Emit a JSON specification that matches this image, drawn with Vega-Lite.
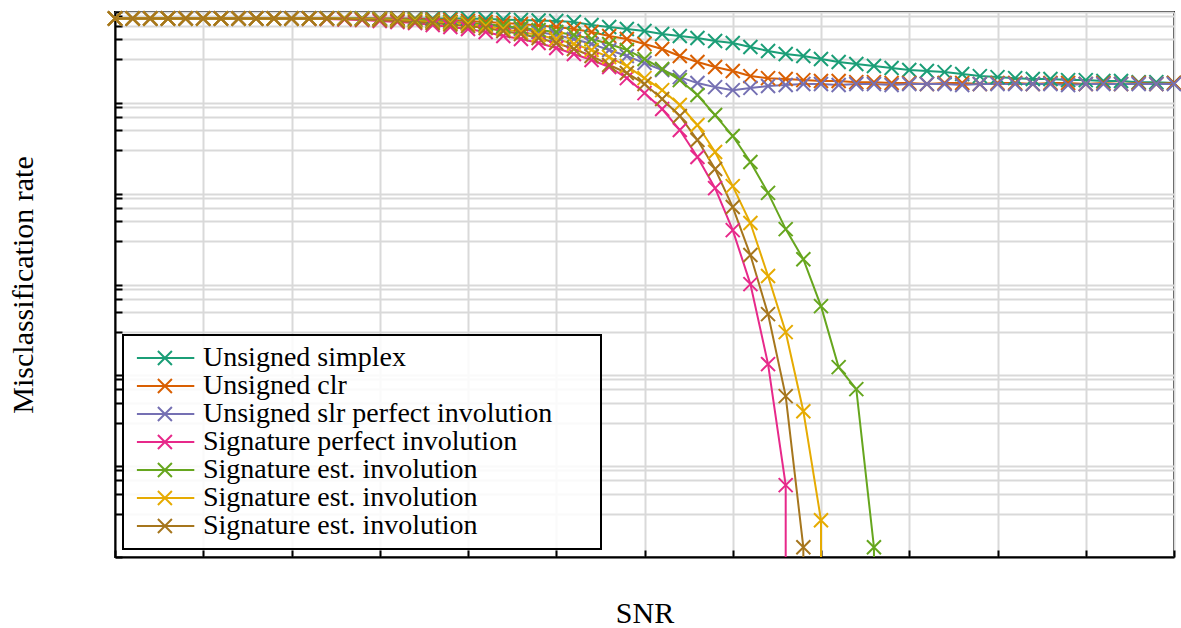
{
"$schema": "https://vega.github.io/schema/vega-lite/v6.json",
"width": 1059,
"height": 545,
"autosize": {"type": "none"},
"padding": {"left": 115, "top": 12, "right": 7, "bottom": 71},
"background": "white",
"config": {
  "font": "Liberation Serif",
  "view": {"stroke": "black", "strokeWidth": 2},
  "axis": {"grid": true, "gridColor": "#d9d9d9", "gridWidth": 2, "domainColor": "black", "domainWidth": 2, "tickColor": "black", "tickWidth": 2, "tickSize": -7, "labels": false, "titleFont": "Liberation Serif", "titleFontSize": 30, "titleFontWeight": "normal", "titleColor": "black"},
  "legend": {"labelLimit": 600, "strokeWidth": 2}
},
"datasets": {
"d": [
{"series":"Unsigned simplex","snr":-30,"rate":0.848},{"series":"Unsigned simplex","snr":-29,"rate":0.848},{"series":"Unsigned simplex","snr":-28,"rate":0.848},{"series":"Unsigned simplex","snr":-27,"rate":0.848},{"series":"Unsigned simplex","snr":-26,"rate":0.848},{"series":"Unsigned simplex","snr":-25,"rate":0.848},{"series":"Unsigned simplex","snr":-24,"rate":0.848},{"series":"Unsigned simplex","snr":-23,"rate":0.848},{"series":"Unsigned simplex","snr":-22,"rate":0.848},{"series":"Unsigned simplex","snr":-21,"rate":0.848},{"series":"Unsigned simplex","snr":-20,"rate":0.848},{"series":"Unsigned simplex","snr":-19,"rate":0.848},{"series":"Unsigned simplex","snr":-18,"rate":0.848},{"series":"Unsigned simplex","snr":-17,"rate":0.848},{"series":"Unsigned simplex","snr":-16,"rate":0.848},{"series":"Unsigned simplex","snr":-15,"rate":0.848},{"series":"Unsigned simplex","snr":-14,"rate":0.848},{"series":"Unsigned simplex","snr":-13,"rate":0.848},{"series":"Unsigned simplex","snr":-12,"rate":0.848},{"series":"Unsigned simplex","snr":-11,"rate":0.848},{"series":"Unsigned simplex","snr":-10,"rate":0.848},{"series":"Unsigned simplex","snr":-9,"rate":0.837},{"series":"Unsigned simplex","snr":-8,"rate":0.827},{"series":"Unsigned simplex","snr":-7,"rate":0.816},{"series":"Unsigned simplex","snr":-6,"rate":0.806},{"series":"Unsigned simplex","snr":-5,"rate":0.796},{"series":"Unsigned simplex","snr":-4,"rate":0.776},{"series":"Unsigned simplex","snr":-3,"rate":0.719},{"series":"Unsigned simplex","snr":-2,"rate":0.684},{"series":"Unsigned simplex","snr":-1,"rate":0.650},{"series":"Unsigned simplex","snr":0,"rate":0.618},{"series":"Unsigned simplex","snr":1,"rate":0.572},{"series":"Unsigned simplex","snr":2,"rate":0.544},{"series":"Unsigned simplex","snr":3,"rate":0.517},{"series":"Unsigned simplex","snr":4,"rate":0.479},{"series":"Unsigned simplex","snr":5,"rate":0.456},{"series":"Unsigned simplex","snr":6,"rate":0.412},{"series":"Unsigned simplex","snr":7,"rate":0.372},{"series":"Unsigned simplex","snr":8,"rate":0.345},{"series":"Unsigned simplex","snr":9,"rate":0.328},{"series":"Unsigned simplex","snr":10,"rate":0.304},{"series":"Unsigned simplex","snr":11,"rate":0.281},{"series":"Unsigned simplex","snr":12,"rate":0.268},{"series":"Unsigned simplex","snr":13,"rate":0.254},{"series":"Unsigned simplex","snr":14,"rate":0.242},{"series":"Unsigned simplex","snr":15,"rate":0.230},{"series":"Unsigned simplex","snr":16,"rate":0.224},{"series":"Unsigned simplex","snr":17,"rate":0.218},{"series":"Unsigned simplex","snr":18,"rate":0.208},{"series":"Unsigned simplex","snr":19,"rate":0.197},{"series":"Unsigned simplex","snr":20,"rate":0.192},{"series":"Unsigned simplex","snr":21,"rate":0.187},{"series":"Unsigned simplex","snr":22,"rate":0.183},{"series":"Unsigned simplex","snr":23,"rate":0.183},{"series":"Unsigned simplex","snr":24,"rate":0.178},{"series":"Unsigned simplex","snr":25,"rate":0.178},{"series":"Unsigned simplex","snr":26,"rate":0.174},{"series":"Unsigned simplex","snr":27,"rate":0.174},{"series":"Unsigned simplex","snr":28,"rate":0.169},{"series":"Unsigned simplex","snr":29,"rate":0.169},{"series":"Unsigned simplex","snr":30,"rate":0.165},

{"series":"Unsigned clr","snr":-30,"rate":0.848},{"series":"Unsigned clr","snr":-29,"rate":0.848},{"series":"Unsigned clr","snr":-28,"rate":0.848},{"series":"Unsigned clr","snr":-27,"rate":0.848},{"series":"Unsigned clr","snr":-26,"rate":0.848},{"series":"Unsigned clr","snr":-25,"rate":0.848},{"series":"Unsigned clr","snr":-24,"rate":0.848},{"series":"Unsigned clr","snr":-23,"rate":0.848},{"series":"Unsigned clr","snr":-22,"rate":0.848},{"series":"Unsigned clr","snr":-21,"rate":0.848},{"series":"Unsigned clr","snr":-20,"rate":0.848},{"series":"Unsigned clr","snr":-19,"rate":0.848},{"series":"Unsigned clr","snr":-18,"rate":0.848},{"series":"Unsigned clr","snr":-17,"rate":0.848},{"series":"Unsigned clr","snr":-16,"rate":0.848},{"series":"Unsigned clr","snr":-15,"rate":0.848},{"series":"Unsigned clr","snr":-14,"rate":0.848},{"series":"Unsigned clr","snr":-13,"rate":0.837},{"series":"Unsigned clr","snr":-12,"rate":0.827},{"series":"Unsigned clr","snr":-11,"rate":0.816},{"series":"Unsigned clr","snr":-10,"rate":0.796},{"series":"Unsigned clr","snr":-9,"rate":0.776},{"series":"Unsigned clr","snr":-8,"rate":0.757},{"series":"Unsigned clr","snr":-7,"rate":0.738},{"series":"Unsigned clr","snr":-6,"rate":0.710},{"series":"Unsigned clr","snr":-5,"rate":0.684},{"series":"Unsigned clr","snr":-4,"rate":0.650},{"series":"Unsigned clr","snr":-3,"rate":0.602},{"series":"Unsigned clr","snr":-2,"rate":0.544},{"series":"Unsigned clr","snr":-1,"rate":0.504},{"series":"Unsigned clr","snr":0,"rate":0.444},{"series":"Unsigned clr","snr":1,"rate":0.391},{"series":"Unsigned clr","snr":2,"rate":0.328},{"series":"Unsigned clr","snr":3,"rate":0.281},{"series":"Unsigned clr","snr":4,"rate":0.248},{"series":"Unsigned clr","snr":5,"rate":0.224},{"series":"Unsigned clr","snr":6,"rate":0.197},{"series":"Unsigned clr","snr":7,"rate":0.187},{"series":"Unsigned clr","snr":8,"rate":0.183},{"series":"Unsigned clr","snr":9,"rate":0.178},{"series":"Unsigned clr","snr":10,"rate":0.174},{"series":"Unsigned clr","snr":11,"rate":0.174},{"series":"Unsigned clr","snr":12,"rate":0.169},{"series":"Unsigned clr","snr":13,"rate":0.169},{"series":"Unsigned clr","snr":14,"rate":0.165},{"series":"Unsigned clr","snr":15,"rate":0.165},{"series":"Unsigned clr","snr":16,"rate":0.161},{"series":"Unsigned clr","snr":17,"rate":0.165},{"series":"Unsigned clr","snr":18,"rate":0.165},{"series":"Unsigned clr","snr":19,"rate":0.161},{"series":"Unsigned clr","snr":20,"rate":0.165},{"series":"Unsigned clr","snr":21,"rate":0.165},{"series":"Unsigned clr","snr":22,"rate":0.161},{"series":"Unsigned clr","snr":23,"rate":0.165},{"series":"Unsigned clr","snr":24,"rate":0.165},{"series":"Unsigned clr","snr":25,"rate":0.161},{"series":"Unsigned clr","snr":26,"rate":0.165},{"series":"Unsigned clr","snr":27,"rate":0.161},{"series":"Unsigned clr","snr":28,"rate":0.165},{"series":"Unsigned clr","snr":29,"rate":0.161},{"series":"Unsigned clr","snr":30,"rate":0.165},

{"series":"Unsigned slr perfect involution","snr":-30,"rate":0.848},{"series":"Unsigned slr perfect involution","snr":-29,"rate":0.848},{"series":"Unsigned slr perfect involution","snr":-28,"rate":0.848},{"series":"Unsigned slr perfect involution","snr":-27,"rate":0.848},{"series":"Unsigned slr perfect involution","snr":-26,"rate":0.848},{"series":"Unsigned slr perfect involution","snr":-25,"rate":0.848},{"series":"Unsigned slr perfect involution","snr":-24,"rate":0.848},{"series":"Unsigned slr perfect involution","snr":-23,"rate":0.848},{"series":"Unsigned slr perfect involution","snr":-22,"rate":0.848},{"series":"Unsigned slr perfect involution","snr":-21,"rate":0.848},{"series":"Unsigned slr perfect involution","snr":-20,"rate":0.848},{"series":"Unsigned slr perfect involution","snr":-19,"rate":0.848},{"series":"Unsigned slr perfect involution","snr":-18,"rate":0.848},{"series":"Unsigned slr perfect involution","snr":-17,"rate":0.848},{"series":"Unsigned slr perfect involution","snr":-16,"rate":0.848},{"series":"Unsigned slr perfect involution","snr":-15,"rate":0.837},{"series":"Unsigned slr perfect involution","snr":-14,"rate":0.827},{"series":"Unsigned slr perfect involution","snr":-13,"rate":0.816},{"series":"Unsigned slr perfect involution","snr":-12,"rate":0.796},{"series":"Unsigned slr perfect involution","snr":-11,"rate":0.776},{"series":"Unsigned slr perfect involution","snr":-10,"rate":0.757},{"series":"Unsigned slr perfect involution","snr":-9,"rate":0.719},{"series":"Unsigned slr perfect involution","snr":-8,"rate":0.684},{"series":"Unsigned slr perfect involution","snr":-7,"rate":0.650},{"series":"Unsigned slr perfect involution","snr":-6,"rate":0.602},{"series":"Unsigned slr perfect involution","snr":-5,"rate":0.558},{"series":"Unsigned slr perfect involution","snr":-4,"rate":0.504},{"series":"Unsigned slr perfect involution","snr":-3,"rate":0.444},{"series":"Unsigned slr perfect involution","snr":-2,"rate":0.382},{"series":"Unsigned slr perfect involution","snr":-1,"rate":0.328},{"series":"Unsigned slr perfect involution","snr":0,"rate":0.274},{"series":"Unsigned slr perfect involution","snr":1,"rate":0.230},{"series":"Unsigned slr perfect involution","snr":2,"rate":0.192},{"series":"Unsigned slr perfect involution","snr":3,"rate":0.165},{"series":"Unsigned slr perfect involution","snr":4,"rate":0.149},{"series":"Unsigned slr perfect involution","snr":5,"rate":0.138},{"series":"Unsigned slr perfect involution","snr":6,"rate":0.146},{"series":"Unsigned slr perfect involution","snr":7,"rate":0.153},{"series":"Unsigned slr perfect involution","snr":8,"rate":0.157},{"series":"Unsigned slr perfect involution","snr":9,"rate":0.161},{"series":"Unsigned slr perfect involution","snr":10,"rate":0.161},{"series":"Unsigned slr perfect involution","snr":11,"rate":0.157},{"series":"Unsigned slr perfect involution","snr":12,"rate":0.161},{"series":"Unsigned slr perfect involution","snr":13,"rate":0.161},{"series":"Unsigned slr perfect involution","snr":14,"rate":0.157},{"series":"Unsigned slr perfect involution","snr":15,"rate":0.161},{"series":"Unsigned slr perfect involution","snr":16,"rate":0.161},{"series":"Unsigned slr perfect involution","snr":17,"rate":0.161},{"series":"Unsigned slr perfect involution","snr":18,"rate":0.157},{"series":"Unsigned slr perfect involution","snr":19,"rate":0.161},{"series":"Unsigned slr perfect involution","snr":20,"rate":0.161},{"series":"Unsigned slr perfect involution","snr":21,"rate":0.161},{"series":"Unsigned slr perfect involution","snr":22,"rate":0.161},{"series":"Unsigned slr perfect involution","snr":23,"rate":0.161},{"series":"Unsigned slr perfect involution","snr":24,"rate":0.157},{"series":"Unsigned slr perfect involution","snr":25,"rate":0.161},{"series":"Unsigned slr perfect involution","snr":26,"rate":0.161},{"series":"Unsigned slr perfect involution","snr":27,"rate":0.161},{"series":"Unsigned slr perfect involution","snr":28,"rate":0.161},{"series":"Unsigned slr perfect involution","snr":29,"rate":0.161},{"series":"Unsigned slr perfect involution","snr":30,"rate":0.161},

{"series":"Signature perfect involution","snr":-30,"rate":0.848},{"series":"Signature perfect involution","snr":-29,"rate":0.848},{"series":"Signature perfect involution","snr":-28,"rate":0.848},{"series":"Signature perfect involution","snr":-27,"rate":0.848},{"series":"Signature perfect involution","snr":-26,"rate":0.848},{"series":"Signature perfect involution","snr":-25,"rate":0.848},{"series":"Signature perfect involution","snr":-24,"rate":0.848},{"series":"Signature perfect involution","snr":-23,"rate":0.848},{"series":"Signature perfect involution","snr":-22,"rate":0.848},{"series":"Signature perfect involution","snr":-21,"rate":0.848},{"series":"Signature perfect involution","snr":-20,"rate":0.848},{"series":"Signature perfect involution","snr":-19,"rate":0.842},{"series":"Signature perfect involution","snr":-18,"rate":0.837},{"series":"Signature perfect involution","snr":-17,"rate":0.827},{"series":"Signature perfect involution","snr":-16,"rate":0.816},{"series":"Signature perfect involution","snr":-15,"rate":0.796},{"series":"Signature perfect involution","snr":-14,"rate":0.776},{"series":"Signature perfect involution","snr":-13,"rate":0.757},{"series":"Signature perfect involution","snr":-12,"rate":0.719},{"series":"Signature perfect involution","snr":-11,"rate":0.684},{"series":"Signature perfect involution","snr":-10,"rate":0.650},{"series":"Signature perfect involution","snr":-9,"rate":0.602},{"series":"Signature perfect involution","snr":-8,"rate":0.544},{"series":"Signature perfect involution","snr":-7,"rate":0.504},{"series":"Signature perfect involution","snr":-6,"rate":0.456},{"series":"Signature perfect involution","snr":-5,"rate":0.401},{"series":"Signature perfect involution","snr":-4,"rate":0.345},{"series":"Signature perfect involution","snr":-3,"rate":0.296},{"series":"Signature perfect involution","snr":-2,"rate":0.248},{"series":"Signature perfect involution","snr":-1,"rate":0.187},{"series":"Signature perfect involution","snr":0,"rate":0.128},{"series":"Signature perfect involution","snr":1,"rate":0.0854},{"series":"Signature perfect involution","snr":2,"rate":0.0502},{"series":"Signature perfect involution","snr":3,"rate":0.0253},{"series":"Signature perfect involution","snr":4,"rate":0.0115},{"series":"Signature perfect involution","snr":5,"rate":0.00397},{"series":"Signature perfect involution","snr":6,"rate":0.00101},{"series":"Signature perfect involution","snr":7,"rate":0.000133},{"series":"Signature perfect involution","snr":8,"rate":0.00000618},{"series":"Signature perfect involution","snr":8,"rate":1e-9},

{"series":"Signature est. involution (1)","snr":-30,"rate":0.848},{"series":"Signature est. involution (1)","snr":-29,"rate":0.848},{"series":"Signature est. involution (1)","snr":-28,"rate":0.848},{"series":"Signature est. involution (1)","snr":-27,"rate":0.848},{"series":"Signature est. involution (1)","snr":-26,"rate":0.848},{"series":"Signature est. involution (1)","snr":-25,"rate":0.848},{"series":"Signature est. involution (1)","snr":-24,"rate":0.848},{"series":"Signature est. involution (1)","snr":-23,"rate":0.848},{"series":"Signature est. involution (1)","snr":-22,"rate":0.848},{"series":"Signature est. involution (1)","snr":-21,"rate":0.848},{"series":"Signature est. involution (1)","snr":-20,"rate":0.848},{"series":"Signature est. involution (1)","snr":-19,"rate":0.848},{"series":"Signature est. involution (1)","snr":-18,"rate":0.848},{"series":"Signature est. involution (1)","snr":-17,"rate":0.848},{"series":"Signature est. involution (1)","snr":-16,"rate":0.848},{"series":"Signature est. involution (1)","snr":-15,"rate":0.837},{"series":"Signature est. involution (1)","snr":-14,"rate":0.827},{"series":"Signature est. involution (1)","snr":-13,"rate":0.816},{"series":"Signature est. involution (1)","snr":-12,"rate":0.796},{"series":"Signature est. involution (1)","snr":-11,"rate":0.776},{"series":"Signature est. involution (1)","snr":-10,"rate":0.757},{"series":"Signature est. involution (1)","snr":-9,"rate":0.738},{"series":"Signature est. involution (1)","snr":-8,"rate":0.701},{"series":"Signature est. involution (1)","snr":-7,"rate":0.667},{"series":"Signature est. involution (1)","snr":-6,"rate":0.634},{"series":"Signature est. involution (1)","snr":-5,"rate":0.602},{"series":"Signature est. involution (1)","snr":-4,"rate":0.558},{"series":"Signature est. involution (1)","snr":-3,"rate":0.504},{"series":"Signature est. involution (1)","snr":-2,"rate":0.444},{"series":"Signature est. involution (1)","snr":-1,"rate":0.382},{"series":"Signature est. involution (1)","snr":0,"rate":0.304},{"series":"Signature est. involution (1)","snr":1,"rate":0.236},{"series":"Signature est. involution (1)","snr":2,"rate":0.178},{"series":"Signature est. involution (1)","snr":3,"rate":0.122},{"series":"Signature est. involution (1)","snr":4,"rate":0.0734},{"series":"Signature est. involution (1)","snr":5,"rate":0.0431},{"series":"Signature est. involution (1)","snr":6,"rate":0.0223},{"series":"Signature est. involution (1)","snr":7,"rate":0.0102},{"series":"Signature est. involution (1)","snr":8,"rate":0.00407},{"series":"Signature est. involution (1)","snr":9,"rate":0.0019},{"series":"Signature est. involution (1)","snr":10,"rate":0.000578},{"series":"Signature est. involution (1)","snr":11,"rate":0.000123},{"series":"Signature est. involution (1)","snr":12,"rate":0.0000705},{"series":"Signature est. involution (1)","snr":13,"rate":0.00000128},{"series":"Signature est. involution (1)","snr":13,"rate":1e-9},

{"series":"Signature est. involution (2)","snr":-30,"rate":0.848},{"series":"Signature est. involution (2)","snr":-29,"rate":0.848},{"series":"Signature est. involution (2)","snr":-28,"rate":0.848},{"series":"Signature est. involution (2)","snr":-27,"rate":0.848},{"series":"Signature est. involution (2)","snr":-26,"rate":0.848},{"series":"Signature est. involution (2)","snr":-25,"rate":0.848},{"series":"Signature est. involution (2)","snr":-24,"rate":0.848},{"series":"Signature est. involution (2)","snr":-23,"rate":0.848},{"series":"Signature est. involution (2)","snr":-22,"rate":0.848},{"series":"Signature est. involution (2)","snr":-21,"rate":0.848},{"series":"Signature est. involution (2)","snr":-20,"rate":0.848},{"series":"Signature est. involution (2)","snr":-19,"rate":0.848},{"series":"Signature est. involution (2)","snr":-18,"rate":0.848},{"series":"Signature est. involution (2)","snr":-17,"rate":0.848},{"series":"Signature est. involution (2)","snr":-16,"rate":0.837},{"series":"Signature est. involution (2)","snr":-15,"rate":0.827},{"series":"Signature est. involution (2)","snr":-14,"rate":0.816},{"series":"Signature est. involution (2)","snr":-13,"rate":0.796},{"series":"Signature est. involution (2)","snr":-12,"rate":0.776},{"series":"Signature est. involution (2)","snr":-11,"rate":0.757},{"series":"Signature est. involution (2)","snr":-10,"rate":0.738},{"series":"Signature est. involution (2)","snr":-9,"rate":0.701},{"series":"Signature est. involution (2)","snr":-8,"rate":0.650},{"series":"Signature est. involution (2)","snr":-7,"rate":0.602},{"series":"Signature est. involution (2)","snr":-6,"rate":0.558},{"series":"Signature est. involution (2)","snr":-5,"rate":0.504},{"series":"Signature est. involution (2)","snr":-4,"rate":0.444},{"series":"Signature est. involution (2)","snr":-3,"rate":0.382},{"series":"Signature est. involution (2)","snr":-2,"rate":0.319},{"series":"Signature est. involution (2)","snr":-1,"rate":0.254},{"series":"Signature est. involution (2)","snr":0,"rate":0.187},{"series":"Signature est. involution (2)","snr":1,"rate":0.138},{"series":"Signature est. involution (2)","snr":2,"rate":0.0946},{"series":"Signature est. involution (2)","snr":3,"rate":0.0569},{"series":"Signature est. involution (2)","snr":4,"rate":0.0287},{"series":"Signature est. involution (2)","snr":5,"rate":0.0121},{"series":"Signature est. involution (2)","snr":6,"rate":0.00475},{"series":"Signature est. involution (2)","snr":7,"rate":0.00124},{"series":"Signature est. involution (2)","snr":8,"rate":0.000299},{"series":"Signature est. involution (2)","snr":9,"rate":0.0000403},{"series":"Signature est. involution (2)","snr":10,"rate":0.00000254},{"series":"Signature est. involution (2)","snr":10,"rate":1e-9},

{"series":"Signature est. involution (3)","snr":-30,"rate":0.848},{"series":"Signature est. involution (3)","snr":-29,"rate":0.848},{"series":"Signature est. involution (3)","snr":-28,"rate":0.848},{"series":"Signature est. involution (3)","snr":-27,"rate":0.848},{"series":"Signature est. involution (3)","snr":-26,"rate":0.848},{"series":"Signature est. involution (3)","snr":-25,"rate":0.848},{"series":"Signature est. involution (3)","snr":-24,"rate":0.848},{"series":"Signature est. involution (3)","snr":-23,"rate":0.848},{"series":"Signature est. involution (3)","snr":-22,"rate":0.848},{"series":"Signature est. involution (3)","snr":-21,"rate":0.848},{"series":"Signature est. involution (3)","snr":-20,"rate":0.848},{"series":"Signature est. involution (3)","snr":-19,"rate":0.848},{"series":"Signature est. involution (3)","snr":-18,"rate":0.848},{"series":"Signature est. involution (3)","snr":-17,"rate":0.837},{"series":"Signature est. involution (3)","snr":-16,"rate":0.827},{"series":"Signature est. involution (3)","snr":-15,"rate":0.816},{"series":"Signature est. involution (3)","snr":-14,"rate":0.796},{"series":"Signature est. involution (3)","snr":-13,"rate":0.776},{"series":"Signature est. involution (3)","snr":-12,"rate":0.757},{"series":"Signature est. involution (3)","snr":-11,"rate":0.728},{"series":"Signature est. involution (3)","snr":-10,"rate":0.701},{"series":"Signature est. involution (3)","snr":-9,"rate":0.667},{"series":"Signature est. involution (3)","snr":-8,"rate":0.618},{"series":"Signature est. involution (3)","snr":-7,"rate":0.572},{"series":"Signature est. involution (3)","snr":-6,"rate":0.517},{"series":"Signature est. involution (3)","snr":-5,"rate":0.456},{"series":"Signature est. involution (3)","snr":-4,"rate":0.391},{"series":"Signature est. involution (3)","snr":-3,"rate":0.328},{"series":"Signature est. involution (3)","snr":-2,"rate":0.261},{"series":"Signature est. involution (3)","snr":-1,"rate":0.213},{"series":"Signature est. involution (3)","snr":0,"rate":0.161},{"series":"Signature est. involution (3)","snr":1,"rate":0.110},{"series":"Signature est. involution (3)","snr":2,"rate":0.0716},{"series":"Signature est. involution (3)","snr":3,"rate":0.0389},{"series":"Signature est. involution (3)","snr":4,"rate":0.0187},{"series":"Signature est. involution (3)","snr":5,"rate":0.00712},{"series":"Signature est. involution (3)","snr":6,"rate":0.00211},{"series":"Signature est. involution (3)","snr":7,"rate":0.000472},{"series":"Signature est. involution (3)","snr":8,"rate":0.000059},{"series":"Signature est. involution (3)","snr":9,"rate":0.00000128},{"series":"Signature est. involution (3)","snr":9,"rate":1e-9}
]
},
"data": {"name": "d"},
"encoding": {
  "x": {"field": "snr", "type": "quantitative", "scale": {"domain": [-30, 30], "nice": false, "zero": false}, "axis": {"title": "SNR", "values": [-30,-25,-20,-15,-10,-5,0,5,10,15,20,25,30], "titlePadding": 40}},
  "y": {"field": "rate", "type": "quantitative", "scale": {"type": "log", "domain": [0.000001, 1], "nice": false}, "axis": {"title": "Misclassification rate", "titlePadding": 76, "values": [0.000001,0.000003,0.000005,0.000007,0.000009,0.00001,0.00003,0.00005,0.00007,0.00009,0.0001,0.0003,0.0005,0.0007,0.0009,0.001,0.003,0.005,0.007,0.009,0.01,0.03,0.05,0.07,0.09,0.1,0.3,0.5,0.7,0.9,1]}},
  "color": {"field": "series", "type": "nominal",
    "scale": {"domain": ["Unsigned simplex","Unsigned clr","Unsigned slr perfect involution","Signature perfect involution","Signature est. involution (1)","Signature est. involution (2)","Signature est. involution (3)"],
              "range": ["#1b9e77","#d95f02","#7570b3","#e7298a","#66a61e","#e6ab02","#a6761d"]},
    "legend": {"title": " ", "titleOrient": "right", "titlePadding": 40, "titleFontSize": 28, "orient": "bottom-left", "offset": 8, "symbolType": "M-1.3,0L6.9,0M1.7,-1L3.7,1M3.7,-1L1.7,1", "symbolSize": 196, "symbolStrokeWidth": 2, "symbolFillColor": "transparent", "labelFont": "Liberation Serif", "labelFontSize": 28, "labelColor": "black", "labelOffset": 43, "padding": 9, "rowPadding": 0, "strokeColor": "black", "fillColor": "rgba(255,255,255,0.85)", "labelLimit": 600,
      "labelExpr": "indexof(datum.label, 'Signature est.') === 0 ? 'Signature est. involution' : datum.label"}
  }
},
"layer": [
  {"mark": {"type": "line", "clip": true, "strokeWidth": 2},
   "encoding": {"order": {"field": "snr", "type": "quantitative"}}},
  {"transform": [{"filter": "datum.rate >= 0.000001"}],
   "mark": {"type": "point", "shape": "M-1,-1L1,1M1,-1L-1,1", "filled": false, "size": 196, "strokeWidth": 2, "opacity": 1}}
]
}
